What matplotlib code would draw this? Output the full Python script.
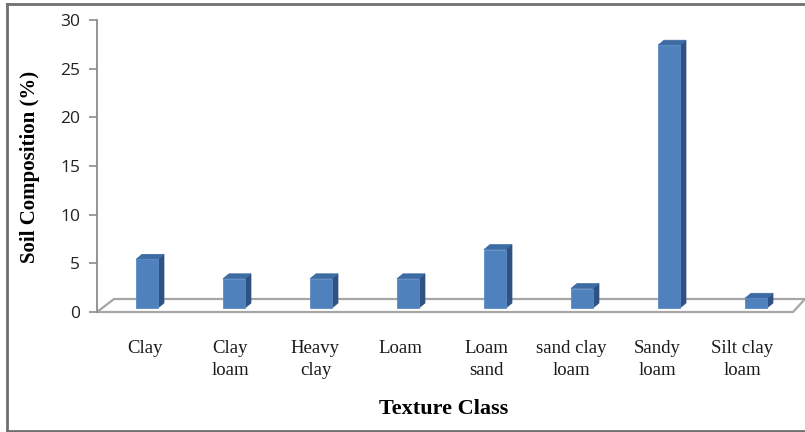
import matplotlib
matplotlib.use("Agg")
import matplotlib.pyplot as plt
from matplotlib.patches import Polygon, Rectangle
from matplotlib.lines import Line2D

categories = ["Clay", "Clay\nloam", "Heavy\nclay", "Loam", "Loam\nsand",
              "sand clay\nloam", "Sandy\nloam", "Silt clay\nloam"]
values = [5, 3, 3, 3, 6, 2, 27, 1]
yticks = [0, 5, 10, 15, 20, 25, 30]

W, H = 805, 432
fig = plt.figure(figsize=(W / 100, H / 100), dpi=100)

# pixel geometry of the plot area
left_px, right_px = 97, 793
top_px, zero_px = 20, 312
ax = fig.add_axes([left_px / W, 1 - zero_px / H, (right_px - left_px) / W, (zero_px - top_px) / H])
ax.set_xlim(0, 8)
ax.set_ylim(0, 30)

ux = (right_px - left_px) / 8.0      # px per x unit
uy = (zero_px - top_px) / 30.0       # px per y unit

def px2x(p):
    return p / ux

def px2y(p):
    return p / uy

# floor parallelogram
fdx, fdy = px2x(17), px2y(13)
floor_x = [0, 8, 8 + px2x(12), fdx, 0]
floor_y = [0, 0, fdy, fdy, 0]
ax.add_patch(Polygon(list(zip(floor_x, floor_y)), closed=True, facecolor="white",
                     edgecolor="#A6A6A6", lw=1.6, zorder=1, clip_on=False))

# bars
front_c = "#4F81BD"
side_c = "#2F5283"
top_c = "#3D6BA3"
bw = px2x(22)
ddx, ddy = px2x(6), px2y(5)
base = px2y(4)
for i, v in enumerate(values):
    xc = i + 0.5 + px2x(6.5)
    x0, x1 = xc - bw / 2, xc + bw / 2
    y0, y1 = base, base + v
    ax.add_patch(Polygon([(x1, y0), (x1 + ddx, y0 + ddy), (x1 + ddx, y1 + ddy), (x1, y1)],
                         closed=True, facecolor=side_c, edgecolor=side_c, lw=0.5, zorder=3, clip_on=False))
    ax.add_patch(Polygon([(x0, y1), (x1, y1), (x1 + ddx, y1 + ddy), (x0 + ddx, y1 + ddy)],
                         closed=True, facecolor=top_c, edgecolor=top_c, lw=0.5, zorder=3, clip_on=False))
    ax.add_patch(Rectangle((x0, y0), bw, v, facecolor=front_c, edgecolor="#5B8BC6",
                           lw=0.6, zorder=4, clip_on=False))

# axes styling
for s in ["top", "right", "bottom"]:
    ax.spines[s].set_visible(False)
ax.spines["left"].set_color("#8C8C8C")
ax.spines["left"].set_linewidth(1.3)
ax.set_yticks(yticks)
ax.set_yticklabels([str(t) for t in yticks], fontfamily="Open Sans", fontsize=12.5, color="#222222")
ax.tick_params(axis="y", length=6, width=1.2, color="#8C8C8C", direction="out", pad=6)
ax.set_xticks([])
ax.patch.set_alpha(0)

# category labels on a label axis
lab_left, lab_right = 102, 785
lax = fig.add_axes([lab_left / W, 1 - zero_px / H, (lab_right - lab_left) / W, 0.001])
lax.set_xlim(0, 8)
lax.set_xticks([i + 0.5 for i in range(len(categories))])
lax.set_xticklabels(categories, fontfamily="Liberation Serif", fontsize=13.5,
                    color="#1a1a1a", linespacing=1.4, va="top")
lax.tick_params(axis="x", length=0, pad=20)
lax.set_yticks([])
for s in lax.spines.values():
    s.set_visible(False)
lax.patch.set_alpha(0)

fig.text(30 / W, 1 - 167 / H, "Soil Composition (%)", fontfamily="Liberation Serif",
         fontweight="bold", fontsize=15, rotation=90, ha="center", va="center")
fig.text(444 / W, 1 - 409 / H, "Texture Class", fontfamily="Liberation Serif",
         fontweight="bold", fontsize=16, ha="center", va="center")

# outer frame
fig.add_artist(Line2D([7 / W, 7 / W], [1 - 4 / H, 1 - 431 / H], color="#707070", lw=2))
fig.add_artist(Line2D([7 / W, 1], [1 - 4 / H, 1 - 4 / H], color="#707070", lw=2))
fig.add_artist(Line2D([7 / W, 1], [1 - 431 / H, 1 - 431 / H], color="#707070", lw=2))

fig.savefig("out.png", dpi=100)
